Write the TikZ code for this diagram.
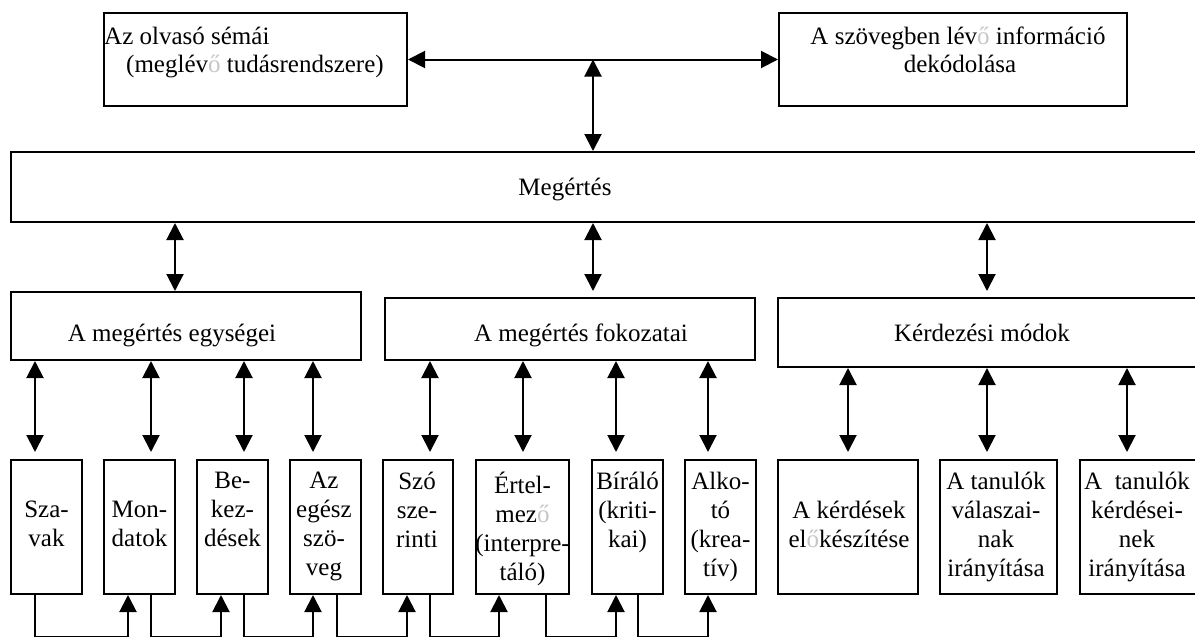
\documentclass[tikz,border=0pt]{standalone}
\usepackage{fontspec}
\setmainfont{Liberation Serif}
\usetikzlibrary{arrows.meta}
\newcommand\gro{\textcolor{gray!45}{ő}}
\tikzset{
  box/.style={draw, line width=2pt, inner sep=0pt},
  txt/.style={inner sep=0pt, font=\fontsize{25}{29}\selectfont},
  mtxt/.style={inner sep=0pt, align=center, anchor=north, font=\fontsize{25}{29}\selectfont, execute at begin node=\strut},
  dbl/.style={{Triangle[length=17pt,width=17pt]}-{Triangle[length=17pt,width=17pt]}, line width=2pt},
  up/.style={-{Triangle[length=17pt,width=17pt]}, line width=2pt},
}
\begin{document}
\begin{tikzpicture}[x=1pt,y=-1pt]
\useasboundingbox (0,0) rectangle (1195,637);
\clip (0,0) rectangle (1195,637);
\fill[white] (0,0) rectangle (1195,637);
% top boxes
\node[box, minimum width=303pt, minimum height=93pt] (tl) at (255.5,59.5) {};
\node[box, minimum width=348pt, minimum height=93pt] (tr) at (953,59.5) {};
\node[txt, anchor=base west] (tl1) at (104,45) {Az olvasó sémái};
\node[txt, anchor=base west] (tl2) at (126,72) {(meglév\gro{} tudásrendszere)};
\node[txt, anchor=base] (tr1) at (958,45) {A szövegben lév\gro{} információ};
\node[txt, anchor=base] (tr2) at (960,72) {dekódolása};
% Megertes
\node[box, minimum width=1186pt, minimum height=70pt] (meg) at (604,187) {};
\node[txt, anchor=base] (megt) at (565,195) {Megértés};
% row 2
\node[box, minimum width=350pt, minimum height=68pt] (egy) at (186,326) {};
\node[box, minimum width=370pt, minimum height=62pt] (fok) at (570,329) {};
\node[box, minimum width=419pt, minimum height=69pt] (kerd) at (987.5,332.5) {};
\node[txt, anchor=base] (egyt) at (172,341) {A megértés egységei};
\node[txt, anchor=base] (fokt) at (581,341) {A megértés fokozatai};
\node[txt, anchor=base] (kerdt) at (982,341) {Kérdezési módok};
% row 3
\foreach \n/\cx/\w in {b1/46.5/71, b2/139.5/71, b3/232.5/71, b4/325.5/71, b5/418/70, b6/522.5/93, b7/627.5/71, b8/720.5/71, b9/848/140, b10/998.5/117, b11/1138.5/117}
  \node[box, minimum width=\w pt, minimum height=134pt] (\n) at (\cx,527) {};
\node[mtxt] (t1) at (46.5,500.7) {Sza-\\vak};
\node[mtxt] (t2) at (139.5,500.7) {Mon-\\datok};
\node[mtxt] (t3) at (232.5,471.7) {Be-\\kez-\\dések};
\node[mtxt] (t4) at (324,471.7) {Az\\egész\\szö-\\veg};
\node[mtxt] (t5) at (417,471.7) {Szó\\sze-\\rinti};
\node[mtxt] (t6) at (522.5,471.7) {Értel-\\mez\gro\\(interpre-\\táló)};
\node[mtxt] (t7) at (627.5,471.7) {Bíráló\\(kriti-\\kai)};
\node[mtxt] (t8) at (720.5,471.7) {Alko-\\tó\\(krea-\\tív)};
\node[mtxt] (t9) at (849,500.7) {A kérdések\\el\gro{}készítése};
\node[mtxt] (t10) at (996,471.7) {A tanulók\\válaszai-\\nak\\irányítása};
\node[mtxt] (t11) at (1137,471.7) {A~~tanulók\\kérdései-\\nek\\irányítása};
% top connectors
\draw[dbl] (tl) -- (tr);
\coordinate (hm) at (593,59.5);
\draw[dbl] (hm) -- (hm |- meg.north);
% Megertes -> row 2
\coordinate (m1) at (175,0);
\coordinate (m2) at (593,0);
\coordinate (m3) at (987,0);
\draw[dbl] (meg.south -| m1) -- (egy.north -| m1);
\draw[dbl] (meg.south -| m2) -- ([yshift=6pt]fok.north -| m2);
\draw[dbl] (meg.south -| m3) -- ([yshift=6pt]kerd.north -| m3);
% row 2 -> row 3
\foreach \p/\b/\x in {egy/b1/35, egy/b2/151, egy/b3/244, egy/b4/313, fok/b5/430, fok/b6/523, fok/b7/616, fok/b8/708, kerd/b9/848, kerd/b10/987, kerd/b11/1127}
  \draw[dbl] (\p.south -| \x,0) -- ([yshift=7pt]\b.north -| \x,0);
% bottom chain
\foreach \a/\b/\d/\u in {b1/b2/35/128, b2/b3/151/221, b3/b4/244/313, b4/b5/337/407, b5/b6/430/499, b6/b7/546/616, b7/b8/638/708}
  \draw[up] (\a.south -| \d,0) -- (\d,637) -| (\b.south -| \u,0);
\end{tikzpicture}
\end{document}
